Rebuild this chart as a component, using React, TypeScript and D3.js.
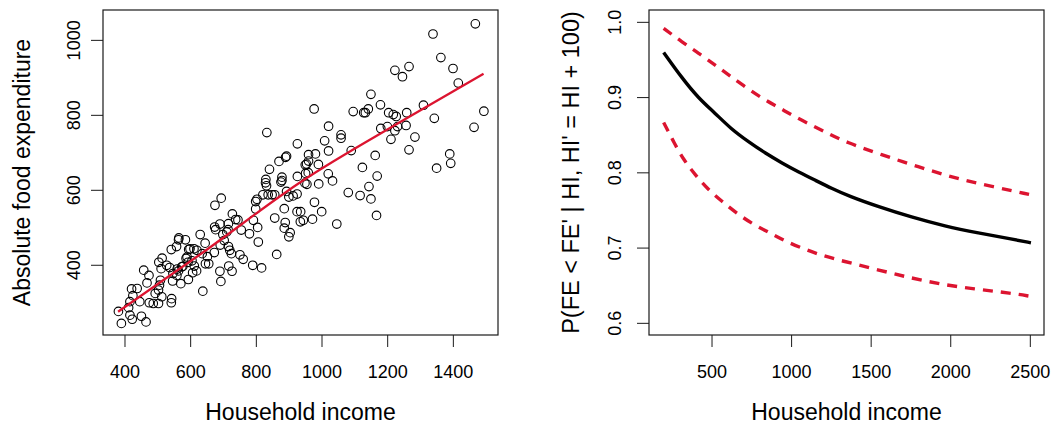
import React from "react";
import * as d3 from "d3";

const width = 1053;
const height = 426;

// left panel: household income vs absolute food expenditure
const income = [
  1467, 1338, 1362, 1399, 1415, 1222, 1265, 1245, 1493, 1463, 1342, 1309, 1258, 1256, 1283, 1265,
  1389, 1392, 1349, 1210, 1222, 1230, 1199, 1179, 1203, 1217, 1226, 1178, 1149, 1141, 1127, 1132,
  1095, 976, 832, 1020, 1058, 1058, 1008, 1020, 925, 1089, 1162, 1123, 1168, 1143, 1116, 1149,
  1166, 1080, 1045, 1032, 1019, 989, 980, 959, 959, 953, 949, 950, 958, 948, 954, 925,
  990, 892, 889, 869, 840, 829, 828, 831, 836, 820, 848, 856, 878, 878, 875, 892,
  899, 912, 924, 885, 935, 924, 943, 934, 971, 977, 999, 888, 885, 903, 899, 856,
  862, 816, 798, 802, 798, 791, 804, 779, 806, 754, 737, 744, 727, 715, 714, 693,
  674, 676, 673, 689, 698, 710, 702, 690, 715, 719, 724, 750, 760, 789, 716, 726,
  689, 692, 637, 672, 651, 645, 655, 629, 644, 635, 619, 610, 598, 594, 589, 586,
  592, 604, 611, 618, 606, 593, 570, 563, 558, 564, 563, 584, 541, 557, 576, 545,
  573, 536, 527, 513, 503, 510, 508, 505, 502, 492, 512, 473, 457, 467, 437, 420,
  424, 415, 445, 474, 486, 502, 542, 541, 380, 411, 415, 422, 389, 450, 464, 546,
  559,
];
const foodExp = [
  1044, 1017, 954, 925, 886, 920, 930, 903, 811, 768, 792, 827, 807, 773, 742, 708,
  697, 672, 659, 736, 759, 770, 770, 765, 807, 802, 797, 828, 856, 817, 807, 807,
  810, 817, 754, 771, 748, 739, 732, 705, 724, 706, 693, 661, 638, 610, 586, 577,
  533, 594, 510, 625, 644, 669, 697, 695, 678, 670, 668, 645, 647, 619, 616, 637,
  617, 691, 688, 677, 656, 629, 620, 612, 588, 588, 588, 588, 635, 626, 622, 597,
  582, 585, 590, 551, 543, 543, 520, 516, 523, 568, 543, 514, 499, 487, 476, 526,
  429, 393, 570, 576, 550, 520, 501, 484, 462, 494, 522, 521, 537, 511, 495, 579,
  560, 495, 502, 510, 482, 489, 466, 454, 450, 440, 431, 428, 416, 400, 398, 384,
  384, 357, 331, 434, 423, 404, 404, 482, 459, 431, 440, 444, 444, 442, 422, 418,
  408, 412, 398, 385, 380, 362, 351, 385, 373, 473, 468, 468, 442, 450, 397, 358,
  396, 394, 400, 419, 408, 391, 360, 347, 334, 325, 316, 373, 387, 353, 338, 337,
  319, 303, 303, 300, 298, 298, 311, 300, 277, 287, 267, 256, 245, 264, 249, 378,
  390,
];

// fitted line (red)
const fitIncome = [379, 637, 942, 1246, 1492];
const fitFood = [276, 434, 626, 786, 911];

// right panel: probability curve and its band
const midIncome = [196, 311, 416, 521, 616, 731, 836, 940, 1045, 1150, 1255, 1360, 1544, 1754, 1964, 2173, 2383, 2504];
const midProb = [0.96, 0.926, 0.899, 0.879, 0.859, 0.841, 0.826, 0.813, 0.801, 0.79, 0.779, 0.769, 0.755, 0.741, 0.729, 0.72, 0.712, 0.707];
const upperIncome = [196, 311, 416, 521, 605, 710, 814, 919, 1024, 1129, 1234, 1339, 1565, 1796, 2026, 2257, 2498];
const upperProb = [0.992, 0.974, 0.959, 0.943, 0.93, 0.914, 0.899, 0.887, 0.874, 0.863, 0.852, 0.841, 0.824, 0.808, 0.793, 0.782, 0.771];
const lowerIncome = [196, 259, 322, 396, 479, 563, 657, 762, 867, 962, 1077, 1192, 1318, 1544, 1754, 1964, 2173, 2383, 2498];
const lowerProb = [0.867, 0.841, 0.817, 0.797, 0.777, 0.762, 0.746, 0.731, 0.72, 0.709, 0.699, 0.69, 0.683, 0.671, 0.66, 0.651, 0.645, 0.64, 0.636];

const xTicksLeft = [400, 600, 800, 1000, 1200, 1400];
const yTicksLeft = [400, 600, 800, 1000];
const xTicksRight = [500, 1000, 1500, 2000, 2500];
const yTicksRight = [0.6, 0.7, 0.8, 0.9, 1.0];

const font = "'Liberation Sans', Arial, Helvetica, sans-serif";
const red = "#dc1430";
const ink = "#1a1a1a";

const top = 10;
const bottom = 335;

const App = () => {
  const xL = d3.scaleLinear().domain([333, 1536]).range([103, 498]);
  const yL = d3.scaleLinear().domain([214, 1081]).range([bottom, top]);
  const xR = d3.scaleLinear().domain([104, 2586]).range([649, 1044]);
  const yR = d3.scaleLinear().domain([0.5845, 1.0164]).range([bottom, top]);

  const fitLine = d3
    .line<number>()
    .x((d, i) => xL(fitIncome[i]))
    .y((d) => yL(d))
    .curve(d3.curveMonotoneX);

  // basis curve smooths out reading noise in the traced points
  const probLine = (xs: number[]) =>
    d3
      .line<number>()
      .x((d, i) => xR(xs[i]))
      .y((d) => yR(d))
      .curve(d3.curveBasis);

  const box = (x0: number, x1: number) => (
    <rect x={x0} y={top} width={x1 - x0} height={bottom - top} fill="none" stroke={ink} strokeWidth={1.2} />
  );

  return (
    <svg width={width} height={height} style={{ position: "absolute", left: 0, top: 0, background: "#fff" }} fontFamily={font}>
      {/* left panel */}
      {income.map((d, i) => (
        <circle key={i} cx={xL(d)} cy={yL(foodExp[i])} r={4.3} fill="none" stroke="#000" strokeWidth={1.1} />
      ))}
      <path d={fitLine(fitFood) || ""} fill="none" stroke={red} strokeWidth={2.3} />
      {box(103, 498)}
      {xTicksLeft.map((t) => (
        <g key={t}>
          <line x1={xL(t)} x2={xL(t)} y1={bottom} y2={bottom + 12} stroke={ink} />
          <text x={xL(t)} y={378} fontSize={18} textAnchor="middle">{t}</text>
        </g>
      ))}
      {yTicksLeft.map((t) => (
        <g key={t}>
          <line x1={103} x2={91} y1={yL(t)} y2={yL(t)} stroke={ink} />
          <text transform={`translate(80,${yL(t)}) rotate(-90)`} fontSize={18} textAnchor="middle">{t}</text>
        </g>
      ))}
      <text x={300.5} y={420} fontSize={23} textAnchor="middle">Household income</text>
      <text transform={`translate(30,172.5) rotate(-90)`} fontSize={23} textAnchor="middle">Absolute food expenditure</text>

      {/* right panel */}
      <path d={probLine(upperIncome)(upperProb) || ""} fill="none" stroke={red} strokeWidth={3.4} strokeDasharray="10 8" />
      <path d={probLine(lowerIncome)(lowerProb) || ""} fill="none" stroke={red} strokeWidth={3.4} strokeDasharray="10 8" />
      <path d={probLine(midIncome)(midProb) || ""} fill="none" stroke="#000" strokeWidth={3.4} />
      {box(649, 1044)}
      {xTicksRight.map((t) => (
        <g key={t}>
          <line x1={xR(t)} x2={xR(t)} y1={bottom} y2={bottom + 12} stroke={ink} />
          <text x={xR(t)} y={378} fontSize={18} textAnchor="middle">{t}</text>
        </g>
      ))}
      {yTicksRight.map((t) => (
        <g key={t}>
          <line x1={649} x2={637} y1={yR(t)} y2={yR(t)} stroke={ink} />
          <text transform={`translate(621,${yR(t)}) rotate(-90)`} fontSize={18} textAnchor="middle">{t.toFixed(1)}</text>
        </g>
      ))}
      <text x={846.5} y={420} fontSize={23} textAnchor="middle">Household income</text>
      <text transform={`translate(579,172.5) rotate(-90)`} fontSize={23.5} textAnchor="middle">P(FE &lt; FE' | HI, HI' = HI + 100)</text>
    </svg>
  );
};

export default App;
